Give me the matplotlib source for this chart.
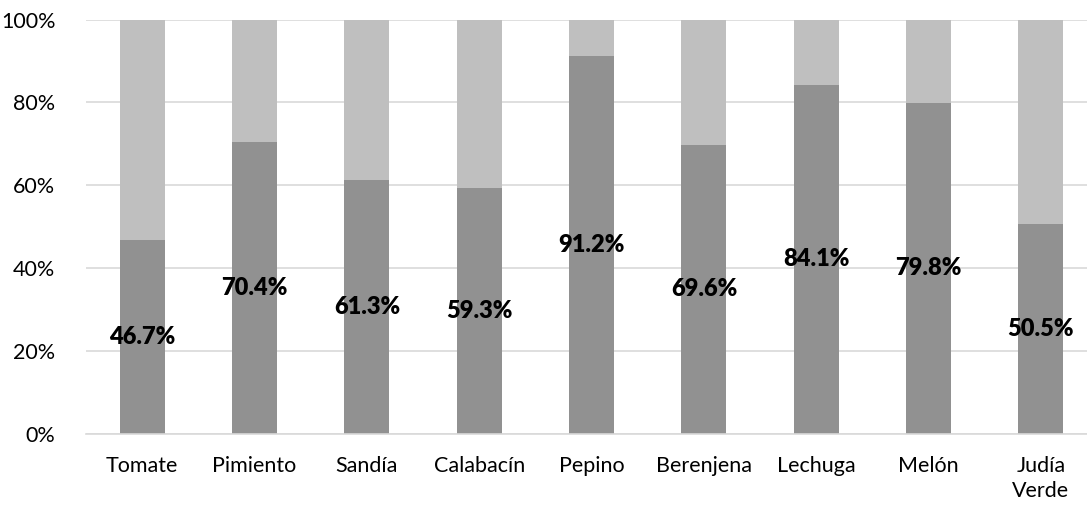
import matplotlib.pyplot as plt
import numpy as np
from matplotlib.ticker import PercentFormatter

plt.rcParams['font.family'] = ['Lato', 'DejaVu Sans']

categories = ["Tomate", "Pimiento", "Sandía", "Calabacín", "Pepino",
              "Berenjena", "Lechuga", "Melón", "Judía\nVerde"]
share = [46.7, 70.4, 61.3, 59.3, 91.2, 69.6, 84.1, 79.8, 50.5]
rest = [100 - v for v in share]

dark = "#919191"
light = "#bfbfbf"

fig = plt.figure(figsize=(10.87, 5.07), dpi=100)
ax = fig.add_axes([86 / 1087, 1 - 433.5 / 507, (1087 - 86) / 1087, 414 / 507])

x = np.arange(len(categories))
width = 0.40
ax.bar(x, share, width, color=dark, zorder=2)
ax.bar(x, rest, width, bottom=share, color=light, zorder=2)

for xi, v in zip(x, share):
    ax.text(xi, v / 2, f"{v:.1f}%", ha="center", va="center",
            fontsize=17, fontweight="heavy", color="black", zorder=3)

ax.set_xlim(-0.5, 8.41)
ax.set_ylim(0, 100)
ax.set_yticks(np.arange(0, 101, 20))
ax.yaxis.set_major_formatter(PercentFormatter(decimals=0))
ax.set_xticks(x)
ax.set_xticklabels(categories, fontsize=15.5, linespacing=1.3)
ax.tick_params(axis="y", labelsize=15.5, length=0, pad=22)
ax.tick_params(axis="x", length=0, pad=16)
ax.grid(axis="y", color="#d9d9d9", linewidth=1.2, zorder=0)
for side in ["top", "right", "left"]:
    ax.spines[side].set_visible(False)
ax.spines["bottom"].set_color("#d9d9d9")
ax.spines["bottom"].set_linewidth(1.2)

fig.savefig("out.png", dpi=100)
